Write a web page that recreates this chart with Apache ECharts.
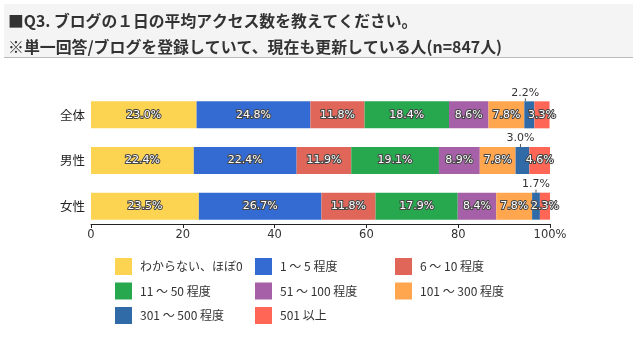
<!DOCTYPE html>
<html><head><meta charset="utf-8">
<script src="https://cdn.jsdelivr.net/npm/echarts@6/dist/echarts.min.js"></script>
<style>html,body{margin:0;padding:0;background:#fff;}#c{width:633px;height:340px;}</style>
</head><body><div id="c"></div>
<script>
var titleLine1 = '■Q3. ブログの１日の平均アクセス数を教えてください。';
var titleLine2 = '※単一回答/ブログを登録していて、現在も更新している人(n=847人)';
var categories = ['全体', '男性', '女性'];
var seriesNames = ['わからない、ほぼ0', '1 ～ 5 程度', '6 ～ 10 程度', '11 ～ 50 程度', '51 ～ 100 程度', '101 ～ 300 程度', '301 ～ 500 程度', '501 以上'];
var colors = ['#FDD352', '#346BD2', '#E0665A', '#27A84F', '#A660A8', '#FFA64E', '#306BA8', '#FF6656'];
var v0 = [23.0, 22.4, 23.5];
var v1 = [24.8, 22.4, 26.7];
var v2 = [11.8, 11.9, 11.8];
var v3 = [18.4, 19.1, 17.9];
var v4 = [8.6, 8.9, 8.4];
var v5 = [7.8, 7.8, 7.8];
var v6 = [2.2, 3.0, 1.7];
var v7 = [3.3, 4.6, 2.3];
var values = [v0, v1, v2, v3, v4, v5, v6, v7];
var xTicks = [0, 20, 40, 60, 80, 100];

var font = '"Noto Sans CJK JP", "Noto Sans", sans-serif';
var numFont = '"DejaVu Sans", "Noto Sans CJK JP", sans-serif';
var chart = echarts.init(document.getElementById('c'));
var series = values.map(function (arr, i) {
  var s = {
    name: seriesNames[i], type: 'bar', stack: 'total', barWidth: 27,
    itemStyle: { color: colors[i] },
    data: arr,
    label: {
      show: true, position: 'inside', formatter: function (p) { return p.value.toFixed(1) + '%'; },
      color: '#fff', fontSize: 11, fontFamily: numFont, textBorderColor: '#444', textBorderWidth: 2
    }
  };
  if (i === 6) {
    s.label = { show: true, position: 'inside', formatter: function (p) { return p.value.toFixed(1) + '%'; },
      color: '#333', fontSize: 11, fontFamily: numFont };
    s.labelLayout = function (p) { return { dx: p.dataIndex === 0 ? -4 : (p.dataIndex === 1 ? -2 : 0), dy: -22 }; };
    s.labelLine = { show: true, lineStyle: { color: '#555', width: 1 } };
  }
  return s;
});

var legendCols = [[0, 3, 6], [1, 4, 7], [2, 5]];
var legendX = [110, 250, 390];
var legends = legendCols.map(function (col, k) {
  return {
    orient: 'vertical', left: legendX[k], top: 253, itemWidth: 17, itemHeight: 17, itemGap: 7.5,
    icon: 'rect', data: col.map(function (i) { return seriesNames[i]; }),
    textStyle: { fontSize: 12, color: '#333', fontFamily: font, padding: [0, 0, 0, 3] },
    selectedMode: false
  };
});

chart.setOption({
  animation: false,
  backgroundColor: '#fff',
  textStyle: { fontFamily: font },
  title: [
    { text: titleLine1, left: 3, top: 8, textStyle: { fontSize: 15.8, fontWeight: 'bold', color: '#333', fontFamily: font } },
    { text: titleLine2, left: 3, top: 34, textStyle: { fontSize: 15.9, fontWeight: 'bold', color: '#333', fontFamily: font } }
  ],
  graphic: [
    { type: 'rect', z: -10, shape: { x: 4, y: 4, width: 629, height: 53 }, style: { fill: '#f4f4f4' } },
    { type: 'line', shape: { x1: 4, y1: 57.5, x2: 633, y2: 57.5 }, style: { stroke: '#bbb', lineWidth: 1 } }
  ],
  legend: legends,
  grid: { left: 91, width: 459, top: 92, height: 137 },
  xAxis: {
    type: 'value', min: 0, max: 100, interval: 20, offset: -5,
    axisLine: { show: true, lineStyle: { color: '#222', width: 1 } },
    axisTick: { show: true, length: 4, lineStyle: { color: '#222' } },
    splitLine: { show: false },
    axisLabel: { color: '#333', fontSize: 11.5, fontFamily: numFont, margin: 5,
      formatter: function (v) { return xTicks.indexOf(v) >= 0 ? (v === 100 ? v + '%' : String(v)) : ''; } }
  },
  yAxis: {
    type: 'category', data: categories, inverse: true,
    axisLine: { show: false }, axisTick: { show: false },
    axisLabel: { color: '#222', fontSize: 12.5, fontFamily: font, margin: 6 }
  },
  series: series
});
</script></body></html>
